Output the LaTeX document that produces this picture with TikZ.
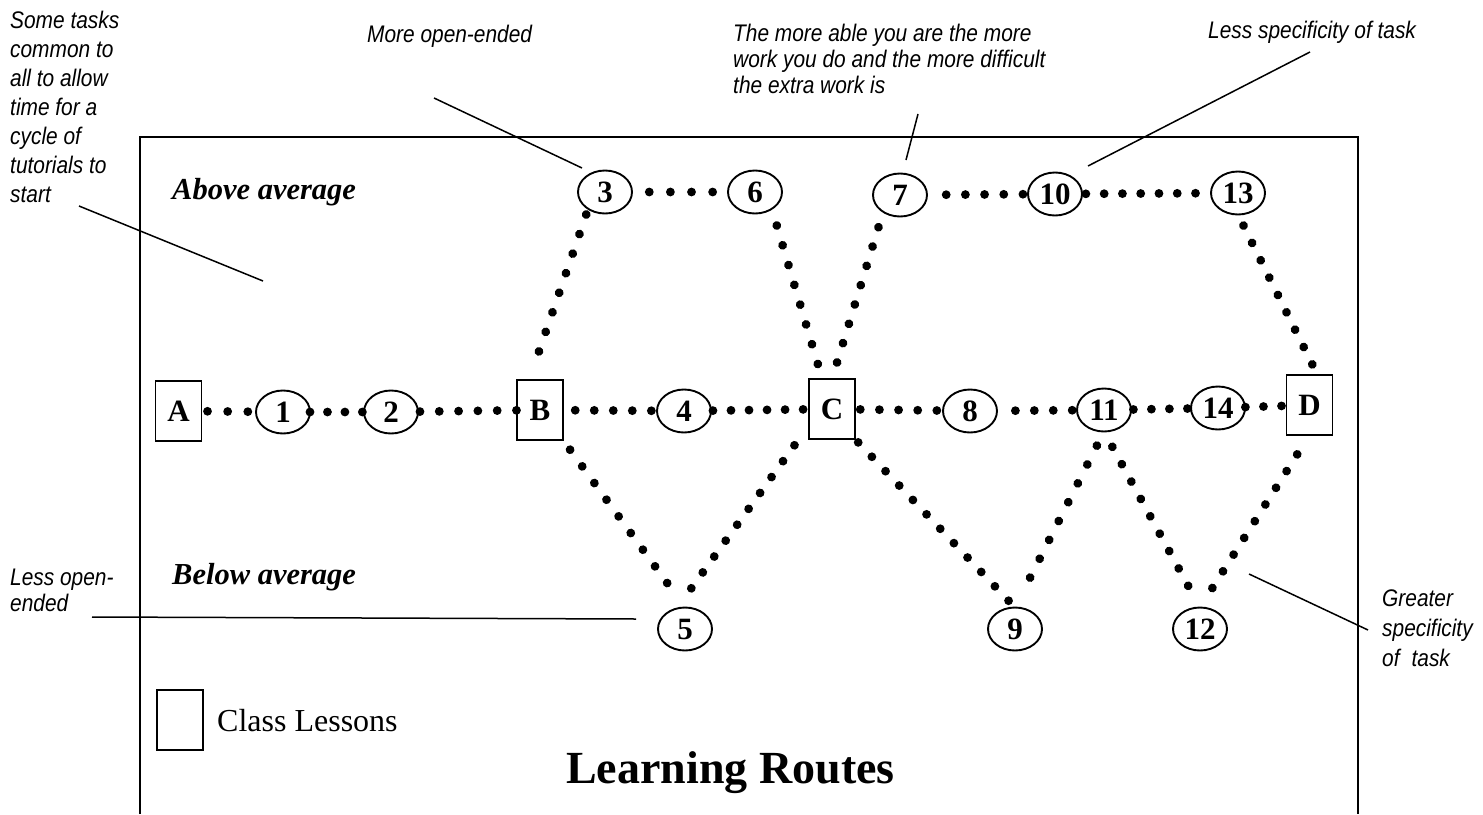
\documentclass[tikz,border=0pt]{standalone}
\usepackage{fontspec}
\setmainfont{Liberation Serif}
\setsansfont{Liberation Sans}
\newfontfamily\notefont[FakeStretch=0.87]{Liberation Sans}
\usetikzlibrary{shapes.geometric,decorations.markings}

\begin{document}
\begin{tikzpicture}[x=1pt,y=-1pt,
  lesson/.style={draw, line width=1.9pt, rectangle, minimum width=46pt,
    minimum height=60pt, inner sep=0pt, outer sep=0pt,
    font=\fontsize{31}{31}\selectfont\bfseries},
  task/.style={draw, line width=1.9pt, ellipse, minimum width=54pt,
    minimum height=43pt, inner sep=0pt, outer sep=0pt,
    font=\fontsize{31}{31}\selectfont\bfseries},
  dotroute/.style n args={3}{decoration={markings,
    mark=between positions #1 and #2 step (#2-#1)/#3*0.9999
    with {\fill (0,0) circle (4.4pt);}}, decorate},
  note/.style={font=\notefont\itshape\fontsize{24}{#1}\selectfont,
    align=left, inner sep=0pt, anchor=north west},
  note/.default=26,
  leader/.style={line width=1.5pt},
  level/.style={font=\bfseries\itshape\fontsize{30.5}{30.5}\selectfont,
    inner sep=0pt, anchor=base west},
]
\useasboundingbox (0,0) rectangle (1483,814);

% frame, open at the bottom
\draw[line width=1.9pt] (140,814) -- (140,137) -- (1358,137) -- (1358,814);

% class lessons
\node[lesson] (A) at (178.5,411) {A};
\node[lesson] (B) at (540,410) {B};
\node[lesson] (C) at (832,409) {C};
\node[lesson] (D) at (1309.5,405) {D};

% tasks
\node[task] (n1) at (283,412) {1};
\node[task] (n2) at (391,412) {2};
\node[task] (n3) at (605,192) {3};
\node[task] (n4) at (684,411) {4};
\node[task] (n5) at (685,629) {5};
\node[task] (n6) at (755,192) {6};
\node[task] (n7) at (900,195) {7};
\node[task] (n8) at (970,411) {8};
\node[task] (n9) at (1015,629) {9};
\node[task] (n10) at (1055,194) {10};
\node[task] (n11) at (1104,410) {11};
\node[task] (n12) at (1200,629) {12};
\node[task] (n13) at (1238,193) {13};
\node[task] (n14) at (1218,408) {14};

% middle route
\path[dotroute={0.11}{0.85}{2}] (A) -- (n1);
\path[dotroute={0.0}{0.97}{3}] (n1) -- (n2);
\path[dotroute={0.02}{0.995}{5}] (n2) -- (B);
\path[dotroute={0.13}{0.94}{4}] (B) -- (n4);
\path[dotroute={0.02}{0.94}{5}] (n4) -- (C);
\path[dotroute={0.06}{0.93}{4}] (C) -- (n8);
\path[dotroute={0.23}{0.94}{3}] (n8) -- (n11);
\path[dotroute={0.04}{0.94}{3}] (n11) -- (n14);
\path[dotroute={0.01}{0.88}{2}] (n14) -- (D);

% upper route
\path[dotroute={0.167}{0.967}{7}] (B.110) -- (n3.225);
\path[dotroute={0.18}{0.84}{3}] (n3) -- (n6);
\path[dotroute={0.098}{0.912}{7}] (n6.315) -- (C.108);
\path[dotroute={0.099}{0.908}{7}] (C.north) -- (n7.225);
\path[dotroute={0.19}{0.95}{4}] (n7) -- (n10);
\path[dotroute={0.03}{0.88}{6}] (n10) -- (n13);
\path[dotroute={0.069}{0.934}{8}] (n13.south) -- (D.75);

% lower route
\path[dotroute={0.058}{0.854}{8}] (B.south east) -- (n5.north);
\path[dotroute={0.11}{0.89}{9}] (C.215) -- (n5.112);
\path[dotroute={0.02}{0.96}{11}] (C.south east) -- (n9.north);
\path[dotroute={0.17}{0.92}{7}] (n9.north) -- (n11.south);
\path[dotroute={0.087}{0.877}{8}] (n11.south) -- (n12.north);
\path[dotroute={0.113}{0.888}{8}] (n12.north) -- (D.south);

% ability levels
\node[level] (above) at (172,199) {Above average};
\node[level] (below) at (172,584) {Below average};

% key and title
\node[lesson] (key) at (180,720) {};
\node[font=\fontsize{32}{32}\selectfont, inner sep=0pt, anchor=base west]
  (keytext) at (217,731) {Class Lessons};
\node[font=\bfseries\fontsize{46}{46}\selectfont, inner sep=0pt, anchor=base]
  (title) at (730.5,783) {Learning Routes};

% comments and their leaders
\node[note=29] (cmtA) at (10,11) {Some tasks\\common to\\all to allow\\time for a\\cycle of\\tutorials to\\start};
\coordinate (cmtA1) at (79,206);
\coordinate (cmtA2) at (263,281);
\draw[leader] (cmtA1) -- (cmtA2);

\node[note] (cmtB) at (367,25) {More open-ended};
\coordinate (cmtB1) at (434,98);
\coordinate (cmtB2) at (582,168);
\draw[leader] (cmtB1) -- (cmtB2);

\node[note] (cmtC) at (733,24) {The more able you are the more\\work you do and the more difficult\\the extra work is};
\coordinate (cmtC1) at (918,114);
\coordinate (cmtC2) at (906,160);
\draw[leader] (cmtC1) -- (cmtC2);

\node[note] (cmtD) at (1208,21) {Less specificity of task};
\coordinate (cmtD1) at (1310,52);
\coordinate (cmtD2) at (1088,166);
\draw[leader] (cmtD1) -- (cmtD2);

\node[note] (cmtE) at (10,569) {Less open-\\ended};
\coordinate (cmtE1) at (92,617);
\coordinate (cmtE2) at (636,619);
\draw[leader] (cmtE1) -- (cmtE2);

\node[note=30] (cmtF) at (1382,590) {Greater\\specificity\\of\enspace task};
\coordinate (cmtF1) at (1249,574);
\coordinate (cmtF2) at (1368,630);
\draw[leader] (cmtF1) -- (cmtF2);
\end{tikzpicture}
\end{document}
